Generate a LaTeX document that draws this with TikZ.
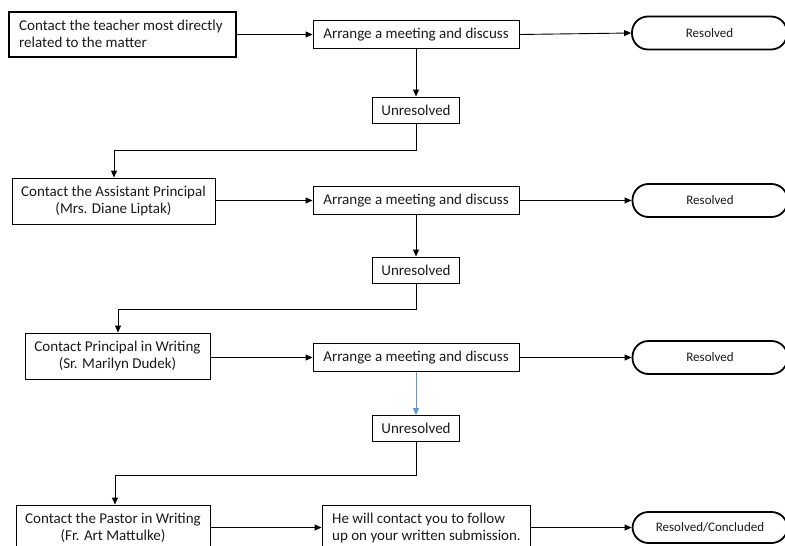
\documentclass[tikz,border=0pt]{standalone}
\usepackage{fontspec}
\setmainfont{Carlito}
\usetikzlibrary{arrows.meta,calc}
\definecolor{lineblue}{HTML}{5B9BD5}
\definecolor{inkgray}{HTML}{1A1A1A}
\begin{document}
\begin{tikzpicture}[x=1pt,y=-1pt,
  every node/.style={font=\fontsize{15}{17.5}\selectfont, inner sep=0pt, text=inkgray},
  stepbox/.style={draw, line width=0.9pt, align=center},
  firstbox/.style={draw, line width=2.4pt, align=left},
  meetbox/.style={draw, line width=0.9pt, minimum width=206pt, minimum height=28pt},
  unresbox/.style={draw, line width=0.9pt, minimum width=87pt, minimum height=26pt},
  endbox/.style={draw, line width=1.8pt, rounded corners=16pt, minimum width=155pt, minimum height=33pt, font=\fontsize{13}{15}\selectfont},
  arr/.style={-{Triangle[length=7pt,width=6pt]}, line width=0.9pt},
  barr/.style={arr, draw=lineblue, -{Triangle[length=7pt,width=6pt,fill=lineblue]}}
]
\useasboundingbox (0,0) rectangle (785,546);
\clip (0,0) rectangle (785,546);

% Row 1
\node[firstbox, minimum width=227pt, minimum height=45pt] (A1) at (122.5,34.5) {};
\node[anchor=west, align=left] (A1t) at (19,34) {Contact the teacher most directly\\related to the matter};
\node[meetbox] (M1) at (416,34.5) {Arrange a meeting and discuss};
\node[endbox] (R1) at (709.5,33) {Resolved};
\node[unresbox] (U1) at (416,110) {Unresolved};

% Row 2
\node[stepbox, minimum width=203pt, minimum height=46pt] (A2) at (113.5,201) {Contact the Assistant Principal\\(Mrs. Diane Liptak)};
\node[meetbox] (M2) at (416,200.5) {Arrange a meeting and discuss};
\node[endbox] (R2) at (710,200.5) {Resolved};
\node[unresbox] (U2) at (416,270) {Unresolved};

% Row 3
\node[stepbox, minimum width=185pt, minimum height=46pt] (A3) at (117.5,356) {Contact Principal in Writing\\(Sr. Marilyn Dudek)};
\node[meetbox] (M3) at (416,357.5) {Arrange a meeting and discuss};
\node[endbox] (R3) at (710,357.5) {Resolved};
\node[unresbox] (U3) at (416,428.5) {Unresolved};

% Row 4
\node[stepbox, minimum width=194pt, minimum height=46pt] (A4) at (113,528) {Contact the Pastor in Writing\\(Fr. Art Mattulke)};
\node[draw, line width=0.9pt, minimum width=208pt, minimum height=46pt] (M4) at (426,528) {};
\node[anchor=west, align=left] (M4t) at (332,528) {He will contact you to follow\\up on your written submission.};
\node[endbox, minimum height=31pt] (R4) at (710,527.5) {Resolved/Concluded};

% elbow points
\coordinate (k1) at (114,150);
\coordinate (k2) at (118,309);
\coordinate (k3) at (115,475);

% connectors
\draw[arr] (A1.east |- M1.west) -- (M1.west);
\draw[arr] (M1.east) -- (R1.west);
\draw[arr] (M1.south) -- (U1.north);
\draw[arr] (U1.south) |- (k1) -- (k1 |- A2.north);

\draw[arr] (A2.east |- M2.west) -- (M2.west);
\draw[arr] (M2.east) -- (R2.west);
\draw[arr] (M2.south) -- (U2.north);
\draw[arr] (U2.south) |- (k2) -- (k2 |- A3.north);

\draw[arr] (A3.east |- M3.west) -- (M3.west);
\draw[arr] (M3.east) -- (R3.west);
\draw[barr] (M3.south) -- (U3.north);
\draw[arr] (U3.south) |- (k3) -- (k3 |- A4.north);

\draw[arr] (A4.east |- R4.west) -- (A4.east |- R4.west -| M4.west);
\draw[arr] (M4.east |- R4.west) -- (R4.west);
\end{tikzpicture}
\end{document}
